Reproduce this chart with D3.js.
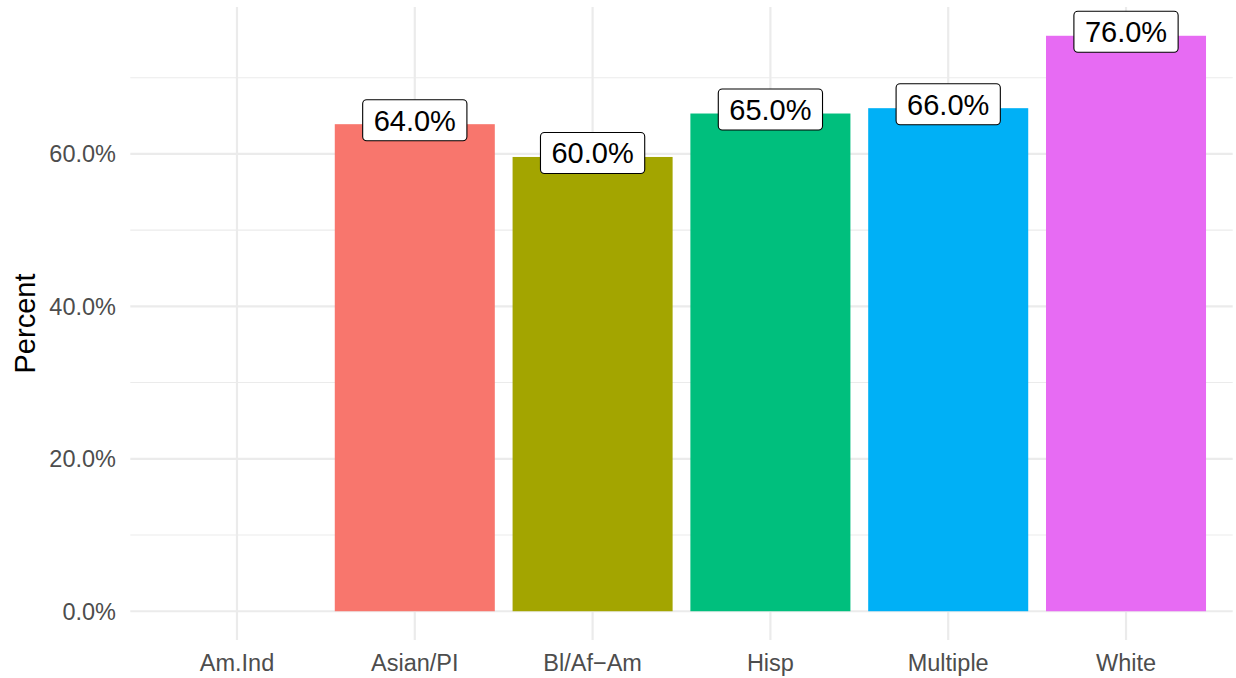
<!DOCTYPE html>
<html>
<head>
<meta charset="utf-8">
<script src="https://cdn.jsdelivr.net/npm/d3@7"></script>
<style>
  body { margin: 0; background: #fff; }
  text { font-family: "Liberation Sans", Arial, Helvetica, sans-serif; }
</style>
</head>
<body>
<div id="output"></div>
<script>
var w = 1236;
var h = 678;

var categories = ['Am.Ind', 'Asian/PI', 'Bl/Af\u2212Am', 'Hisp', 'Multiple', 'White'];
var values = [null, 0.639, 0.596, 0.653, 0.660, 0.755];
var labels = [null, '64.0%', '60.0%', '65.0%', '66.0%', '76.0%'];
var colors = [null, '#F8766D', '#A3A500', '#00BF7D', '#00B0F6', '#E76BF3'];
var yTicks = [0, 0.2, 0.4, 0.6];
var yMinor = [0.1, 0.3, 0.5, 0.7];

var panel = { left: 130.3, right: 1232.7, top: 7, bottom: 640 };

var svg = d3.select('#output').append('svg')
	.attr('width', w)
	.attr('height', h);

var ymax = d3.max(values);
var y = d3.scaleLinear()
	.domain([-0.05 * ymax, 1.05 * ymax])
	.range([panel.bottom, panel.top]);

var x = d3.scalePoint()
	.domain(categories)
	.range([panel.left, panel.right])
	.padding(0.6);

var barW = x.step() * 0.9;
var fmt = d3.format('.1%');

// grid
svg.selectAll('line.minor')
	.data(yMinor)
	.enter()
	.append('line')
	.attr('x1', panel.left).attr('x2', panel.right)
	.attr('y1', function (d) { return y(d); })
	.attr('y2', function (d) { return y(d); })
	.attr('stroke', '#ebebeb')
	.attr('stroke-width', 1.1);

svg.selectAll('line.major')
	.data(yTicks)
	.enter()
	.append('line')
	.attr('x1', panel.left).attr('x2', panel.right)
	.attr('y1', function (d) { return y(d); })
	.attr('y2', function (d) { return y(d); })
	.attr('stroke', '#ebebeb')
	.attr('stroke-width', 2.2);

svg.selectAll('line.vgrid')
	.data(categories)
	.enter()
	.append('line')
	.attr('x1', function (d) { return x(d); })
	.attr('x2', function (d) { return x(d); })
	.attr('y1', panel.top).attr('y2', panel.bottom)
	.attr('stroke', '#ebebeb')
	.attr('stroke-width', 2.2);

// bars
var rows = categories.map(function (c, i) {
	return { cat: c, v: values[i], label: labels[i], color: colors[i] };
}).filter(function (d) { return d.v != null; });

svg.selectAll('rect.bar')
	.data(rows)
	.enter()
	.append('rect')
	.attr('x', function (d) { return x(d.cat) - barW / 2; })
	.attr('y', function (d) { return y(d.v); })
	.attr('width', barW)
	.attr('height', function (d) { return y(0) - y(d.v); })
	.attr('fill', function (d) { return d.color; });

// labels
var lab = svg.selectAll('g.lab')
	.data(rows)
	.enter()
	.append('g')
	.attr('transform', function (d) { return 'translate(' + x(d.cat) + ',' + (y(d.v) - 4) + ')'; });

var labText = lab.append('text')
	.attr('text-anchor', 'middle')
	.attr('y', 10.4)
	.attr('font-size', 29)
	.attr('fill', '#000')
	.text(function (d) { return d.label; });

lab.insert('rect', 'text')
	.each(function (d, i) {
		var tw = labText.nodes()[i].getComputedTextLength();
		d3.select(this)
			.attr('x', -tw / 2 - 11)
			.attr('y', -20.5)
			.attr('width', tw + 22)
			.attr('height', 41);
	})
	.attr('rx', 4).attr('ry', 4)
	.attr('fill', '#fff')
	.attr('stroke', '#000')
	.attr('stroke-width', 1.1);

// y tick labels
svg.selectAll('text.ytick')
	.data(yTicks)
	.enter()
	.append('text')
	.attr('x', 116)
	.attr('y', function (d) { return y(d) + 8.4; })
	.attr('text-anchor', 'end')
	.attr('font-size', 23.5)
	.attr('fill', '#4d4d4d')
	.text(function (d) { return fmt(d); });

// x tick labels
svg.selectAll('text.xtick')
	.data(categories)
	.enter()
	.append('text')
	.attr('x', function (d) { return x(d); })
	.attr('y', 670.7)
	.attr('text-anchor', 'middle')
	.attr('font-size', 23.5)
	.attr('fill', '#4d4d4d')
	.text(function (d) { return d; });

// y title
svg.append('text')
	.attr('transform', 'translate(35,' + ((panel.top + panel.bottom) / 2) + ') rotate(-90)')
	.attr('text-anchor', 'middle')
	.attr('font-size', 29)
	.attr('fill', '#000')
	.text('Percent');
</script>
</body>
</html>
